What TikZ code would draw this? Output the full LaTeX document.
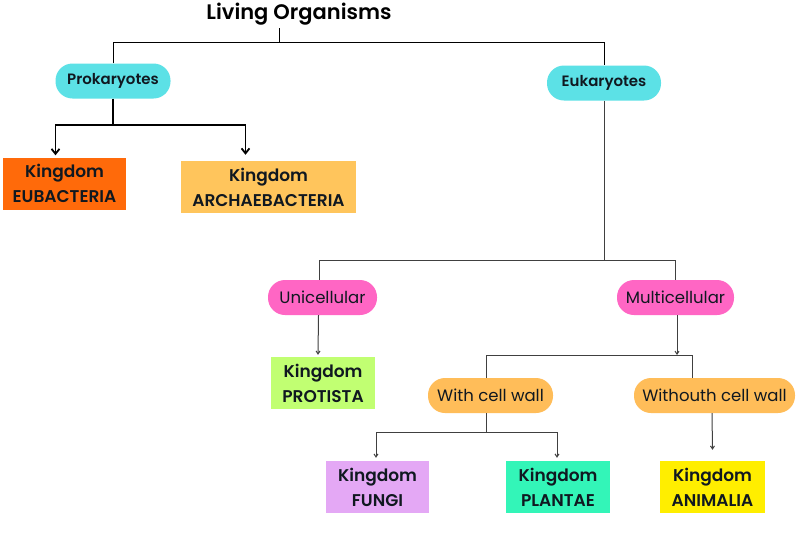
\documentclass[tikz,border=0pt]{standalone}
\usepackage{fontspec}
\setmainfont{Poppins}
\newfontfamily\popmed{Poppins}[UprightFont=* Medium, BoldFont=* SemiBold]
\usetikzlibrary{arrows.meta}
\definecolor{cyanA}{HTML}{5CE1E6}
\definecolor{pinkA}{HTML}{FF66C4}
\definecolor{orangeP}{HTML}{FFBD59}
\definecolor{eubC}{HTML}{FF6A0A}
\definecolor{archC}{HTML}{FFC55C}
\definecolor{protC}{HTML}{C1FF72}
\definecolor{fungC}{HTML}{E4A8F5}
\definecolor{plantC}{HTML}{33F5B8}
\definecolor{animC}{HTML}{FFEE00}
\definecolor{inkC}{HTML}{101820}
\tikzset{
  pill/.style={rounded corners=17pt, minimum height=35pt, inner sep=0pt, text=inkC,
    font=\fontsize{16.5}{18}\selectfont},
  bpill/.style={pill, font=\popmed\fontsize{15}{18}\selectfont\bfseries},
  kbox/.style={minimum height=52pt, inner sep=0pt, align=center, text=inkC,
    font=\popmed\fontsize{17}{25}\selectfont\bfseries},
  conn/.style={draw=black, line width=1pt},
  gconn/.style={draw=black!75, line width=1pt},
  bigarrow/.style={draw=black, line width=1.8pt, -{Straight Barb[length=5pt,width=8pt]}},
  smallarrow/.style={draw=black!75, line width=1pt, -{Straight Barb[length=3pt,width=4pt]}}
}
\begin{document}
\begin{tikzpicture}[x=1pt,y=-1pt]
\useasboundingbox (0,0) rectangle (800,550);
\fill[white] (0,0) rectangle (800,550);

% title
\node[font=\popmed\fontsize{21}{24}\selectfont\bfseries, text=black] (title) at (299,14) {Living Organisms};
\coordinate (t0) at (279,28);
\coordinate (t1) at (279,42);

% level 1
\node[bpill, fill=cyanA, minimum width=115pt] (prok) at (113,81) {Prokaryotes};
\node[bpill, fill=cyanA, minimum width=114pt] (euk) at (604,83) {Eukaryotes};

% prokaryote kingdoms
\node[kbox, fill=eubC, minimum width=123pt] (eub) at (64.5,183.5) {Kingdom\\EUBACTERIA};
\node[kbox, fill=archC, minimum width=175pt] (arch) at (268.5,187) {Kingdom\\ARCHAEBACTERIA};

% level 2
\node[pill, fill=pinkA, minimum width=109pt] (uni) at (322.5,297.5) {Unicellular};
\node[pill, fill=pinkA, minimum width=117pt] (multi) at (675.5,297.5) {Multicellular};

\node[kbox, fill=protC, minimum width=104pt] (prot) at (323,383) {Kingdom\\PROTISTA};

% level 3
\node[pill, fill=orangeP, minimum width=125pt] (wcw) at (490.5,395.5) {With cell wall};
\node[pill, fill=orangeP, minimum width=161pt] (wocw) at (714.5,395.5) {Withouth cell wall};

\node[kbox, fill=fungC, minimum width=103pt] (fungi) at (377.5,487) {Kingdom\\FUNGI};
\node[kbox, fill=plantC, minimum width=104pt] (plant) at (558,487) {Kingdom\\PLANTAE};
\node[kbox, fill=animC, minimum width=105pt] (anim) at (712.5,487) {Kingdom\\ANIMALIA};

% connectors: top
\draw[conn] (t0) -- (t1);
\draw[conn] (prok.north) |- (t1);
\draw[conn] (t1) -| (euk.north);

% prokaryotes
\coordinate (p1) at (113,125);
\draw[conn, line width=1.5pt] (prok.south) -- (p1);
\draw[bigarrow] (p1) -| ([xshift=-9pt,yshift=2pt]eub.north);
\draw[bigarrow] (p1) -| ([xshift=-23pt,yshift=6pt]arch.north);

% eukaryotes
\coordinate (e1) at (604,260);
\draw[gconn] (euk.south) -- (e1);
\draw[gconn] (e1) -| ([xshift=-3pt]uni.north);
\draw[gconn] (e1) -| (multi.north);

% unicellular
\draw[smallarrow] ([xshift=-4pt]uni.south) -- ([xshift=-5pt,yshift=2pt]prot.north);

% multicellular
\coordinate (m1) at (677,355);
\draw[smallarrow] ([xshift=1.5pt]multi.south) -- (m1);
\draw[gconn] (m1) -| ([xshift=-4.5pt]wcw.north);
\draw[gconn] (m1) -| ([xshift=-22.5pt]wocw.north);

% with cell wall
\coordinate (w1) at (486,432);
\draw[gconn] ([xshift=-4.5pt]wcw.south) -- (w1);
\draw[smallarrow] (w1) -| ([xshift=-1.5pt,yshift=3pt]fungi.north);
\draw[smallarrow] (w1) -| ([xshift=-1pt,yshift=3pt]plant.north);

% without cell wall
\draw[smallarrow] ([xshift=-2.5pt]wocw.south) -- ([yshift=11pt]anim.north);
\end{tikzpicture}
\end{document}
